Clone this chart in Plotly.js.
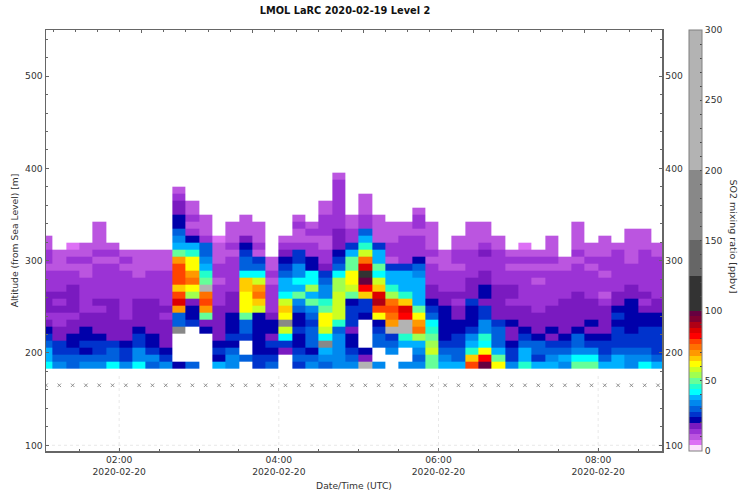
<!DOCTYPE html>
<html><head><meta charset="utf-8">
<script src="https://cdn.plot.ly/plotly-3.0.1.min.js"></script>
<style>html,body{margin:0;padding:0;background:#fff}#c{width:739px;height:493px}</style>
</head><body><div id="c"></div>
<script>
const n = null;
const times = ["01:05","01:15","01:25","01:35","01:45","01:55","02:05","02:15","02:25","02:35","02:45","02:55","03:05","03:15","03:25","03:35","03:45","03:55","04:05","04:15","04:25","04:35","04:45","04:55","05:05","05:15","05:25","05:35","05:45","05:55","06:05","06:15","06:25","06:35","06:45","06:55","07:05","07:15","07:25","07:35","07:45","07:55","08:05","08:15","08:25","08:35","08:45"];
const altitudes = [186.9,194.5,202.0,209.6,217.2,224.8,232.4,240.0,247.5,255.1,262.7,270.3,277.9,285.5,293.0,300.6,308.2,315.8,323.4,331.0,338.5,346.1,353.7,361.3,368.9,376.5,384.0,391.6];
// SO2 values per time column, bottom altitude upward (ppbv)
const c00=[42,38,38,30,26,22,18,14,18,18,18,14,14,14,10,14,14,10,10];
const c01=[34,30,26,26,18,18,14,14,18,14,18,14,14,14,10,10,10];
const c02=[30,30,26,22,22,18,18,14,18,18,18,18,14,14,10,14,10,6];
const c03=[34,30,22,26,22,22,18,18,14,14,14,14,14,10,10,14,10,10];
const c04=[34,30,26,26,22,18,18,18,14,18,14,14,14,14,14,10,14,10,10,10,10];
const c05=[42,30,30,26,18,18,18,18,18,18,14,14,14,14,14,10,14,10];
const c06=[34,26,26,22,18,18,18,14,14,14,14,14,14,14,10,14,10];
const c07=[42,34,34,26,26,22,18,18,18,18,14,14,14,10,10,10,10];
const c08=[30,34,26,22,22,18,18,18,18,18,14,14,14,14,10,10,10];
const c09=[34,26,22,18,18,18,18,14,18,14,14,14,14,14,10,10,10];
const c10=[22,n,n,n,n,175,30,30,70,86,78,66,78,78,78,70,50,38,34,30,22,22,18,18,14,10];
const c11=[30,n,n,n,n,n,26,22,22,18,54,62,74,70,62,62,46,38,22,14,10,14,10,10];
const c12=[n,n,n,n,n,22,18,50,70,78,74,250,50,46,38,34,30,30,14,10,10,10];
const c13=[38,22,26,22,18,18,18,18,18,14,14,14,10,14,14,10,10,10,6];
const c14=[34,34,30,22,26,22,22,22,18,18,18,14,14,14,14,14,10,14,10,10,10];
const c15=[n,30,n,n,26,30,30,50,62,62,62,66,66,42,30,30,26,22,18,10,10,10];
const c16=[26,26,22,22,22,22,22,22,58,66,74,70,58,42,30,26,10,14,10,10,10];
const c17=[30,26,22,26,18,22,22,18,14,14,14,14,10,14,10,10];
const c18=[n,n,18,26,42,58,175,62,66,58,42,38,38,30,26,22,18,14,10];
const c19=[26,30,26,22,22,26,22,22,30,34,50,38,42,34,34,26,26,14,10,10,14,10];
const c20=[34,30,22,30,30,30,26,30,34,50,38,54,42,42,22,22,14,14,10,14,10];
const c21=[30,34,38,175,42,58,62,62,50,46,34,34,30,26,18,14,14,10,10,14,14,14,10,10];
const c22=[34,34,34,34,34,30,46,58,58,58,58,54,54,42,30,26,22,18,18,18,14,14,14,14,14,14,14,10];
const c23=[34,30,26,22,22,18,26,26,26,22,50,58,62,62,50,50,38,26,14,14,10,10];
const c24=[250,18,22,n,n,n,n,22,26,26,66,82,98,110,86,74,58,46,38,30,14,14,10,10,10];
const c25=[34,n,n,30,30,26,22,62,78,90,86,66,58,42,50,38,38,26,10,10,10,10];
const c26=[n,n,34,30,26,250,70,74,78,74,54,46,38,38,26,10,14,14,10,10,10];
const c27=[34,n,n,38,46,250,250,82,86,66,46,38,38,38,26,14,14,14,14,10,10];
const c28=[34,30,34,38,54,74,70,62,50,38,38,38,38,34,30,22,14,14,14,10,14,14,10];
const c29=[50,50,58,54,50,46,42,30,26,22,18,18,14,14,14,10,14,10,10,10,10];
const c30=[38,34,30,26,22,22,22,22,22,18,18,14,14,14,10,10,10];
const c31=[38,30,30,26,26,22,22,18,18,14,18,14,14,14,10,14,14,10,10];
const c32=[78,66,46,38,34,26,22,22,22,26,18,18,18,14,14,14,14,10,10,10,10];
const c33=[98,82,62,42,46,34,34,26,26,18,22,22,18,18,14,14,18,14,10,10,10];
const c34=[62,50,38,30,30,30,26,18,18,18,18,18,14,14,14,14,14,10,10];
const c35=[34,26,26,22,18,18,22,18,18,14,18,18,14,14,10,14,10];
const c36=[46,38,38,30,26,22,18,18,18,14,14,14,14,14,10,14,10,6];
const c37=[38,26,30,30,22,18,18,18,14,14,14,14,10,14,10,14,10];
const c38=[38,34,30,26,18,22,18,18,18,14,14,14,14,14,10,14,10,10,10];
const c39=[34,38,30,26,22,18,18,18,18,18,14,14,14,14,10,10];
const c40=[50,42,34,30,30,22,18,18,18,18,18,14,14,14,14,10,14,10,10,10,10];
const c41=[50,42,34,26,22,18,22,18,18,18,14,14,14,14,10,14,10,10];
const c42=[38,30,26,26,22,18,18,18,18,14,10,14,14,10,14,14,10,10,10];
const c43=[38,38,30,26,26,26,22,26,22,18,18,14,14,14,14,14,14,10];
const c44=[34,34,30,26,26,22,22,22,22,22,18,18,14,14,14,10,10,10,10,10];
const c45=[42,34,30,26,26,26,22,22,18,14,18,14,14,14,14,14,14,10,10,10];
const c46=[38,30,26,26,26,26,22,22,18,18,14,14,14,14,14,14,10,10];
const columns=[c00,c01,c02,c03,c04,c05,c06,c07,c08,c09,c10,c11,c12,c13,c14,c15,c16,c17,c18,c19,c20,c21,c22,c23,c24,c25,c26,c27,c28,c29,c30,c31,c32,c33,c34,c35,c36,c37,c38,c39,c40,c41,c42,c43,c44,c45,c46];
const markerAltitude = times.map(() => 165);
const xTickHours = ["02:00","04:00","06:00","08:00"];
const dateLabel = "2020-02-20";
const yTicks = [100,200,300,400,500];
const cbarLabelled = [0,50,100,150,200,250,300];

// Colour bands: [upper bound, colour]
const bands = [[4,"#fde0fd"],[8,"#dd70f5"],[12,"#bb55e0"],[16,"#9b33d5"],[20,"#7a1ac0"],[24,"#0000aa"],[28,"#0033cc"],[32,"#0060dd"],[36,"#0088ee"],[40,"#00b0ff"],[44,"#00ffff"],[48,"#22ffcc"],[52,"#66ff99"],[56,"#a0ff50"],[60,"#ccff22"],[64,"#ffff00"],[68,"#ffcc00"],[72,"#ff9900"],[76,"#ff7000"],[80,"#ff4400"],[84,"#ff0000"],[88,"#dd0000"],[92,"#b00015"],[96,"#800030"],[100,"#660040"],[125,"#333333"],[150,"#666666"],[200,"#888888"],[300,"#b3b3b3"]];
const colorscale = [];
let lo = 0;
bands.forEach(([hi,col]) => { colorscale.push([lo/300,col]); colorscale.push([hi/300,col]); lo = hi; });

const T = t => dateLabel + " " + t + ":00";
const xs = times.map(T);
const z = altitudes.map((_,r) => columns.map(c => (r < c.length ? c[r] : null)));
const cbTicks = []; for (let v=0; v<=300; v+=10) cbTicks.push(v);

const txt = "#333333", axisCol = "#666666", grid = "#e8e8e8";
const F = {family:"DejaVu Sans, sans-serif", size:9.2, color:txt};
const plotW = 688, domEnd = 616/plotW;
const yMin = 93.8, yMax = 550, gridTop = 176;
const traces = [
 {type:"heatmap", x:xs, y:altitudes, z:z, zmin:0, zmax:300, colorscale:colorscale, zsmooth:false, hoverongaps:false,
  colorbar:{x:(689-46)/plotW, xanchor:"left", y:0.5, yanchor:"middle", len:1, lenmode:"fraction", thickness:13, thicknessmode:"pixels",
    outlinecolor:"#808080", outlinewidth:1, ticks:"inside", ticklen:2, tickcolor:"#444", tickwidth:1,
    tickmode:"array", tickvals:cbTicks, ticktext:cbTicks.map(v => cbarLabelled.includes(v) ? String(v) : ""),
    tickfont:F, xpad:0, ypad:0}},
 {type:"scatter", mode:"markers", x:xs, y:markerAltitude, xaxis:"x", yaxis:"y2", hoverinfo:"skip", showlegend:false,
  marker:{symbol:"x-thin", size:3.5, color:"#777", line:{color:"#777", width:0.8}}},
 {type:"scatter", mode:"markers", x:[], y:[], xaxis:"x2", yaxis:"y", showlegend:false, hoverinfo:"skip"}
];
const yBase = {range:[yMin,yMax], tickmode:"array", tickvals:yTicks, ticks:"inside", ticklen:3, tickcolor:axisCol, tickfont:F,
  minor:{dtick:20, ticks:"inside", ticklen:2, tickcolor:axisCol, showgrid:false},
  linecolor:axisCol, linewidth:1.5, zeroline:false, showgrid:false, showline:true};
const gridLine = {type:"line", layer:"below", line:{color:grid, width:1, dash:"dot"}};
const shapes = [
 ...xTickHours.map(h => Object.assign({}, gridLine, {xref:"x", yref:"y", x0:T(h), x1:T(h), y0:yMin, y1:gridTop})),
 Object.assign({}, gridLine, {xref:"paper", yref:"y", x0:0, x1:domEnd, y0:100, y1:100})
];
const layout = {
 width:739, height:493, margin:{l:46,r:5,t:30,b:42,pad:0}, paper_bgcolor:"#fff", plot_bgcolor:"#fff", showlegend:false,
 font:F, shapes:shapes,
 title:{text:"LMOL LaRC 2020-02-19 Level 2", x:345/739, xanchor:"center", y:1-10.5/493, yanchor:"middle",
   font:{family:F.family,size:9.8,color:"#111",weight:"bold"}},
 xaxis:{type:"date", domain:[0,domEnd], range:[T("01:05"), T("08:48")], side:"bottom", anchor:"y",
   tickmode:"array", tickvals:xTickHours.map(T), ticktext:xTickHours.map(h => h+"<br>"+dateLabel),
   ticks:"inside", ticklen:3, tickcolor:axisCol, tickfont:F, linecolor:axisCol, linewidth:1.5, showline:true,
   ticklabelstandoff:-1,
   minor:{dtick:1800000, tick0:T("00:00"), ticks:"inside", ticklen:2, tickcolor:axisCol, showgrid:false},
   showgrid:false, zeroline:false,
   title:{text:"Date/Time (UTC)", font:F, standoff:7}},
 xaxis2:{domain:[0,domEnd], overlaying:"x", side:"top", anchor:"y", range:[-4.32,23.49], tick0:0, dtick:5, ticks:"inside", ticklen:3, tickcolor:axisCol,
   minor:{dtick:1, ticks:"inside", ticklen:2, tickcolor:axisCol, showgrid:false},
   showticklabels:false, showgrid:false, zeroline:false, linecolor:axisCol, linewidth:1.5, showline:true},
 yaxis:Object.assign({}, yBase, {side:"left",
   title:{text:"Altitude (from Sea Level) [m]", font:F, standoff:5}}),
 yaxis2:Object.assign({}, yBase, {overlaying:"y", side:"right", anchor:"x"}),
 annotations:[{text:"SO2 mixing ratio [ppbv]", xref:"paper", yref:"paper", x:(733-46)/plotW, y:1-(236.5-30)/421,
   xanchor:"center", yanchor:"middle", textangle:90, showarrow:false, font:{family:F.family,size:9.5,color:txt}}]
};
Plotly.newPlot("c", traces, layout, {displayModeBar:false, staticPlot:true});
</script></body></html>
